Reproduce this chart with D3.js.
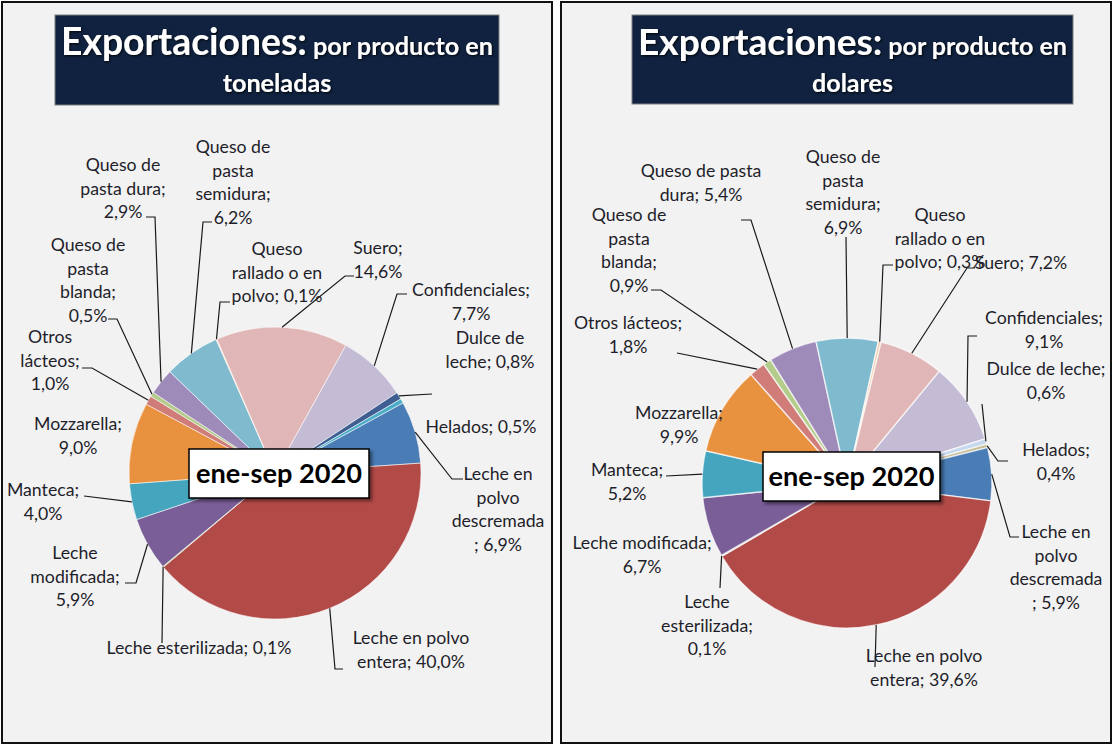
<!DOCTYPE html>
<html><head><meta charset="utf-8">
<script src="https://cdn.jsdelivr.net/npm/d3@7"></script>
<style>
body{margin:0;background:#fff}
svg{display:block}
text{font-family:Lato,"Open Sans",sans-serif}
</style>
</head><body>
<svg id="c" width="1114" height="746"></svg>
<script>
// ---------------- DATA ----------------
const categories = ["Confidenciales","Dulce de leche","Helados","Leche en polvo descremada","Leche en polvo entera","Leche esterilizada","Leche modificada","Manteca","Mozzarella","Otros lácteos","Queso de pasta blanda","Queso de pasta dura","Queso de pasta semidura","Queso rallado o en polvo","Suero"];
const shareToneladas = [7.7,0.8,0.5,6.9,40.0,0.1,5.9,4.0,9.0,1.0,0.5,2.9,6.2,0.1,14.6];
const shareDolares   = [9.1,0.6,0.4,5.9,39.6,0.1,6.7,5.2,9.9,1.8,0.9,5.4,6.9,0.3,7.2];
const titleMain = "Exportaciones:";
const titleSub = "por producto en";
const titleUnits = ["toneladas","dolares"];
const periodLabel = "ene-sep 2020";

// ---------------- STYLE / LAYOUT ----------------
const colorsLeft  = ["#C4BBD5","#3F5F93","#4BACC6","#4A7CB6","#B24A48","#9BBB59","#7A5E98","#45A5BF","#E8913F","#D07C79","#B3CB8B","#9E8BB9","#7FBACE","#F2C9A6","#E0B7B6"];
const colorsRight = ["#C4BBD5","#C7D9EF","#C5BE97","#4A7CB6","#B24A48","#9BBB59","#7A5E98","#45A5BF","#E8913F","#D07C79","#B3CB8B","#9E8BB9","#7FBACE","#F2C9A6","#E0B7B6"];

// label layout: x (centre), y (first line centre), br (chars per line), leader (elbow points)
const layoutLeft = [
  {x:471,y:290,br:[15],lead:[[397,294],[407,294]]},
  {x:490,y:338,br:[8],lead:[[432,394]]},
  {x:481,y:427,br:[],lead:null},
  {x:498,y:474,br:[8,5,10],lead:[[452,479],[463,479]]},
  {x:411,y:638,br:[14],lead:[[335,669],[343,669]]},
  {x:199,y:648,br:[],lead:[[162,643]]},
  {x:75,y:553,br:[5,11],lead:[[136,583],[125,583]]},
  {x:43,y:490,br:[8],lead:[[84,496]]},
  {x:78,y:424,br:[11],lead:null},
  {x:50,y:337,br:[5,8],lead:[[92,368],[82,368]]},
  {x:88,y:245,br:[8,5,7],lead:[[117,319],[108,319]]},
  {x:123,y:165,br:[8,11],lead:[[155,217],[146,217]]},
  {x:233,y:147,br:[8,5,9],lead:[[203,222],[212,222]]},
  {x:277,y:249,br:[5,12],lead:[[220,302],[230,302]]},
  {x:378,y:248,br:[6],lead:[[345,276],[354,276]]}
];
const layoutRight = [
  {x:1044,y:318,br:[15],lead:[[968,336],[977,336]]},
  {x:1046,y:369,br:[15],lead:[[982,404]]},
  {x:1056,y:450,br:[8],lead:[[998,461],[1008,461]]},
  {x:1056,y:532,br:[8,5,10],lead:[[1010,537],[1019,537]]},
  {x:924,y:656,br:[14],lead:[[875,667]]},
  {x:707,y:602,br:[5,13],lead:[[720,588]]},
  {x:642,y:543,br:[17],lead:null},
  {x:627,y:470,br:[8],lead:[[666,476]]},
  {x:679,y:413,br:[11],lead:null},
  {x:628,y:323,br:[14],lead:[[677,353]]},
  {x:629,y:215,br:[8,5,7],lead:[[661,290],[651,290]]},
  {x:701,y:171,br:[14],lead:[[751,220],[741,220]]},
  {x:843,y:157,br:[8,5,9],lead:[[846,237]]},
  {x:940,y:215,br:[5,12],lead:[[883,265],[893,265]]},
  {x:1021,y:263,br:[],lead:[[967,268],[975,268]]}
];

const panels = [
  {x0:2,x1:552,title:[55,15,499,105],cx:275,cy:473,r:146,rot:29,data:shareToneladas,colors:colorsLeft,layout:layoutLeft,box:[189,449,369,498],unit:titleUnits[0],stroke:0.8},
  {x0:561,x1:1111,title:[632,15,1073,104],cx:847,cy:483,r:145,rot:39.5,data:shareDolares,colors:colorsRight,layout:layoutRight,box:[763,452,940,501],unit:titleUnits[1],stroke:1.4}
];

const svg = d3.select("#c");
const defs = svg.append("defs");
const f = defs.append("filter").attr("id","tsh").attr("x","-10%").attr("y","-30%").attr("width","120%").attr("height","160%");
f.append("feDropShadow").attr("dx",1).attr("dy",1).attr("stdDeviation",0.8).attr("flood-color","#000").attr("flood-opacity",0.9);
const f2 = defs.append("filter").attr("id","bsh").attr("x","-10%").attr("y","-20%").attr("width","130%").attr("height","150%");
f2.append("feDropShadow").attr("dx",2.5).attr("dy",2.5).attr("stdDeviation",1.5).attr("flood-color","#000").attr("flood-opacity",0.45);

function measure(txt, size, weight){
  const t = svg.append("text").attr("font-size",size).attr("font-weight",weight).text(txt);
  const w = t.node().getComputedTextLength(); t.remove(); return w;
}
const labelSize = 14*185/measure("Leche esterilizada; 0,1%",14,400);
const periodSize = 28*166/measure(periodLabel,28,700);
const fmt = v => d3.format(".1f")(v).replace(".",",") + "%";

function splitLines(s, br){
  const out=[]; let rest=s;
  br.forEach(n=>{ out.push(rest.slice(0,n)); rest = rest.slice(n).replace(/^ /,""); });
  out.push(rest); return out;
}

panels.forEach(p=>{
  const g = svg.append("g");
  g.append("rect").attr("x",p.x0).attr("y",2).attr("width",p.x1-p.x0).attr("height",741)
    .attr("fill","#F2F2F2").attr("stroke","#111").attr("stroke-width",2);
  // title
  const [tx0,ty0,tx1,ty1] = p.title;
  g.append("rect").attr("x",tx0).attr("y",ty0).attr("width",tx1-tx0).attr("height",ty1-ty0)
    .attr("fill","#10223F").attr("stroke","#7f7f7f").attr("stroke-width",1);
  const bigB=34, smallB=23;
  const w1 = measure(titleMain,bigB,700)+measure(" "+titleSub,smallB,700);
  const k = ((tx1-tx0)-18)/w1;
  const tcx=(tx0+tx1)/2;
  const t1 = g.append("text").attr("x",tcx).attr("y",ty0+40).attr("text-anchor","middle")
    .attr("fill","#fff").attr("font-weight",700).attr("filter","url(#tsh)");
  t1.append("tspan").attr("font-size",bigB*k).text(titleMain);
  t1.append("tspan").attr("font-size",smallB*k).text(" "+titleSub);
  g.append("text").attr("x",tcx).attr("y",ty0+77).attr("text-anchor","middle")
    .attr("fill","#fff").attr("font-weight",700).attr("font-size",smallB*k).attr("filter","url(#tsh)").text(p.unit);

  // pie
  const a0 = p.rot*Math.PI/180;
  const pie = d3.pie().sort(null).value(d=>d).startAngle(a0).endAngle(a0+2*Math.PI);
  const arcs = pie(p.data);
  const arc = d3.arc().innerRadius(0).outerRadius(p.r);
  const edge = d3.arc().innerRadius(p.r).outerRadius(p.r);
  const pg = g.append("g").attr("transform",`translate(${p.cx},${p.cy})`);
  pg.selectAll("path").data(arcs).join("path").attr("d",arc)
    .attr("fill",(d,i)=>p.colors[i]).attr("stroke","#fff").attr("stroke-opacity",0.7).attr("stroke-width",p.stroke);

  // leaders
  const line = d3.line();
  arcs.forEach((d,i)=>{
    const L = p.layout[i];
    if(!L.lead) return;
    const c = edge.centroid(d);
    const pts = [[p.cx+c[0],p.cy+c[1]]].concat(L.lead);
    g.append("path").attr("d",line(pts)).attr("fill","none").attr("stroke","#1a1a1a").attr("stroke-width",1.2);
  });
  // labels
  arcs.forEach((d,i)=>{
    const L = p.layout[i];
    const lines = splitLines(categories[i]+"; "+fmt(p.data[i]), L.br);
    const t = g.append("text").attr("text-anchor","middle").attr("font-size",labelSize).attr("fill","#1e1e2a");
    lines.forEach((s,j)=>t.append("tspan").attr("x",L.x).attr("y",L.y+j*23.5).attr("dy","0.35em").text(s));
  });
  // period box
  const [bx0,by0,bx1,by1]=p.box;
  g.append("rect").attr("x",bx0).attr("y",by0).attr("width",bx1-bx0).attr("height",by1-by0)
    .attr("fill","#fff").attr("stroke","#000").attr("stroke-width",1.5).attr("filter","url(#bsh)");
  g.append("text").attr("x",(bx0+bx1)/2).attr("y",(by0+by1)/2).attr("dy","0.35em").attr("text-anchor","middle")
    .attr("font-weight",700).attr("font-size",periodSize).attr("fill","#000").text(periodLabel);
});
</script>
</body></html>
